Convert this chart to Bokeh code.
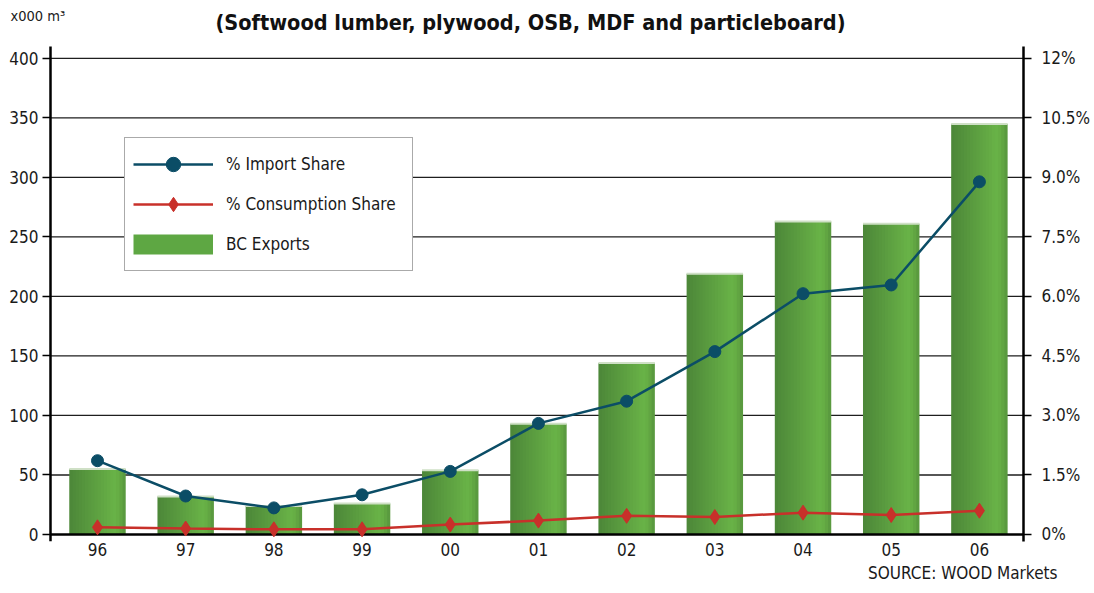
from bokeh.plotting import figure
from bokeh.models import (ColumnDataSource, Range1d, LinearAxis, FixedTicker,
                          Title, Legend, LegendItem)
from bokeh.core.properties import value
from bokeh.embed import file_html
from bokeh.resources import INLINE

# Years and series
years = ["96", "97", "98", "99", "00", "01", "02", "03", "04", "05", "06"]
bc_exports = [55, 32, 24, 26, 54, 93, 144, 219, 263, 261, 345]          # x000 m3
import_share = [1.86, 0.97, 0.67, 1.0, 1.59, 2.8, 3.36, 4.61, 6.07, 6.29, 8.89]  # %
consumption_share = [0.18, 0.15, 0.13, 0.13, 0.25, 0.35, 0.47, 0.44, 0.55, 0.49, 0.6]  # %

left_ticks = [0, 50, 100, 150, 200, 250, 300, 350, 400]
right_ticks = [0, 1.5, 3.0, 4.5, 6.0, 7.5, 9.0, 10.5, 12]
right_labels = ["0%", "1.5%", "3.0%", "4.5%", "6.0%", "7.5%", "9.0%", "10.5%", "12%"]

FONT = "DejaVu Sans Condensed, Roboto Condensed, Liberation Sans Narrow, Roboto"
TXT = "#1a1a1a"

idx = list(range(len(years)))
x_lo, x_hi = -0.533, 10.5          # extent of the chart area along x
y_lo, y_hi = -9, 410               # extent of the value axes

# The frame reaches the top and left canvas edges so the heading texts can sit in it;
# the axes are pinned back to the chart area.
p = figure(width=1094, height=593, output_backend="svg", toolbar_location=None,
           x_range=Range1d(-1.0998, x_hi), y_range=Range1d(-5.9, 448.7),
           min_border_left=0, min_border_right=71, min_border_top=0,
           min_border_bottom=52, outline_line_color=None)
p.title = None
p.extra_y_ranges = {"pct": Range1d(-5.9 * 0.03, 448.7 * 0.03)}
p.xgrid.visible = False
p.ygrid.visible = False

# horizontal rules at the left-axis ticks
grid_vals = left_ticks[1:]
p.segment(x0=[x_lo] * len(grid_vals), x1=[x_hi] * len(grid_vals), y0=grid_vals,
          y1=grid_vals, line_color="#1e1e1e", line_width=1.3)

# Bars drawn as overlapping vertical strips to give a cylindrical shading
bar_w = 0.64
n_strips = 18
shade = ["#4d8839", "#4f8b3a", "#518e3b", "#53913c", "#55943d", "#57973e",
         "#599a3f", "#5b9d40", "#5da041", "#5fa342", "#61a643", "#63a944",
         "#65ac45", "#67b046", "#68b247", "#66ae45", "#61a542", "#5a9a3f"]
step = bar_w / n_strips
sx, sw, stop, scol = [], [], [], []
for i, v in zip(idx, bc_exports):
    for k in range(n_strips):
        last = k == n_strips - 1
        # each strip reaches a little into the next one so no seams show
        w = step if last else step * 1.6
        sx.append(i - bar_w / 2 + k * step + w / 2)
        sw.append(w)
        stop.append(v)
        scol.append(shade[k])
strips = ColumnDataSource(dict(x=sx, w=sw, top=stop, color=scol))
p.vbar(x="x", top="top", bottom=0, width="w", fill_color="color",
       line_color=None, source=strips)

# pale rim along the top of each bar
p.segment(x0=[i - bar_w / 2 for i in idx], x1=[i + bar_w / 2 for i in idx],
          y0=bc_exports, y1=bc_exports, line_color="#cfe0c6", line_width=2)

# zero baseline
p.segment(x0=[x_lo], x1=[x_hi], y0=[0], y1=[0], line_color="black", line_width=2.5)

# Share lines on the percentage axis
imp_line = p.line(idx, import_share, y_range_name="pct", line_color="#0b4d66", line_width=2.5)
imp_dot = p.scatter(idx, import_share, y_range_name="pct", marker="circle", size=12,
                    fill_color="#0b4d66", line_color="#0b4d66")
con_line = p.line(idx, consumption_share, y_range_name="pct", line_color="#c8302a", line_width=2.5)
con_dot = p.scatter(idx, consumption_share, y_range_name="pct", marker="diamond", size=15,
                    fill_color="#c8302a", line_color="#c8302a")

# swatch for the exports legend entry: a single-point line, so nothing shows in the plot
bar_key = p.line(x=[0], y=[0], line_color="#5ea743", line_width=20, line_cap="butt")

# Heading texts
p.text(x=[4.91], y=[430.3], text=["(Softwood lumber, plywood, OSB, MDF and particleboard)"],
       text_font=value(FONT), text_font_style="bold", text_font_size="21.5px",
       text_align="center", text_baseline="middle", text_color="#111")
p.text(x=[-0.986], y=[436], text=["x000 m³"], text_font=value(FONT),
       text_font_size="14.5px", text_align="left", text_baseline="middle", text_color=TXT)

# Axes
p.xaxis.ticker = FixedTicker(ticks=idx)
p.xaxis.major_label_overrides = {i: y for i, y in zip(idx, years)}
p.xaxis.axis_line_color = None
p.xaxis.major_tick_line_color = None
p.xaxis.major_label_standoff = -5
p.xaxis.major_label_text_font = FONT
p.xaxis.major_label_text_font_size = "17px"
p.xaxis.major_label_text_color = TXT

p.yaxis.fixed_location = x_lo
p.yaxis.bounds = (y_lo, y_hi)
p.yaxis.ticker = FixedTicker(ticks=left_ticks)
p.yaxis.axis_line_width = 2.5
p.yaxis.axis_line_color = "black"
p.yaxis.major_tick_out = 8
p.yaxis.major_tick_in = 0
p.yaxis.major_tick_line_width = 1.5
p.yaxis.minor_tick_line_color = None
p.yaxis.major_label_standoff = 4
p.yaxis.major_label_text_font = FONT
p.yaxis.major_label_text_font_size = "17px"
p.yaxis.major_label_text_color = TXT

raxis = LinearAxis(y_range_name="pct", ticker=FixedTicker(ticks=right_ticks),
                   bounds=(y_lo * 0.03, y_hi * 0.03),
                   major_label_overrides={t: s for t, s in zip(right_ticks, right_labels)})
raxis.axis_line_width = 2.5
raxis.axis_line_color = "black"
raxis.major_tick_out = 8
raxis.major_tick_in = 0
raxis.major_tick_line_width = 1.5
raxis.minor_tick_line_color = None
raxis.major_label_standoff = 10
raxis.major_label_text_font = FONT
raxis.major_label_text_font_size = "17px"
raxis.major_label_text_color = TXT
p.add_layout(raxis, "right")

p.add_layout(Title(text="SOURCE: WOOD Markets", align="right", offset=-34,
                   text_font=FONT, text_font_style="normal", text_font_size="17px",
                   text_color=TXT, standoff=4), "below")

# Legend
legend = Legend(items=[
    LegendItem(label="% Import Share", renderers=[imp_line, imp_dot]),
    LegendItem(label="% Consumption Share", renderers=[con_line, con_dot]),
    LegendItem(label="BC Exports", renderers=[bar_key]),
], location=(124, 270), orientation="vertical", glyph_width=80, glyph_height=36,
    label_standoff=13, spacing=4, padding=8, margin=0, label_width=178,
    border_line_color="#555555", border_line_width=1.2,
    label_text_font=FONT, label_text_font_size="17px", label_text_color=TXT,
    background_fill_color="white", background_fill_alpha=1)
p.add_layout(legend, "center")

open("out.html", "w").write(file_html(p, INLINE))
